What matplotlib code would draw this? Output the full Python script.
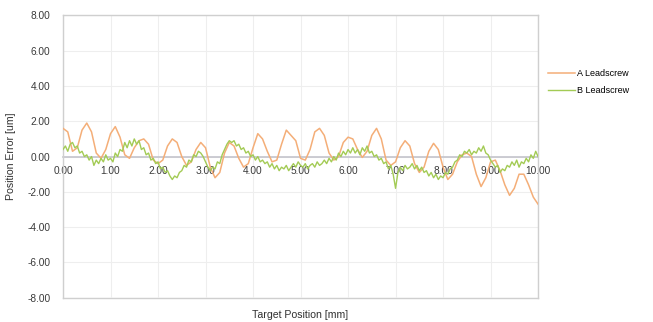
import matplotlib
matplotlib.use("Agg")
import matplotlib.pyplot as plt

plt.rcParams['font.family'] = ['Liberation Sans', 'DejaVu Sans']

# Position error along the travel for two leadscrews (um vs mm)
pos_a = [round(0.1 * i, 2) for i in range(101)]
err_a = [1.6, 1.4, 0.3, 0.5, 1.5, 1.9, 1.4, 0.2, -0.1, 0.4,
         1.3, 1.7, 1.1, 0.1, -0.1, 0.5, 0.9, 1.0, 0.7, -0.2,
         -0.4, -0.2, 0.6, 1.0, 0.8, 0.0, -0.5, -0.3, 0.4, 0.8,
         0.5, -0.6, -1.2, -0.9, 0.2, 0.8, 0.6, -0.1, -0.6, -0.4,
         0.5, 1.3, 1.0, 0.3, -0.3, -0.2, 0.7, 1.5, 1.2, 0.9,
         -0.1, -0.2, 0.4, 1.4, 1.6, 1.2, 0.2, -0.2, 0.0, 0.8,
         1.1, 1.0, 0.4, -0.05, 0.3, 1.2, 1.6, 1.0, -0.2, -0.5,
         -0.3, 0.5, 0.9, 0.6, -0.4, -0.9, -0.6, 0.3, 0.75, 0.4,
         -0.6, -1.3, -1.0, -0.3, 0.1, 0.2, 0.0, -1.0, -1.7, -1.2,
         -0.3, -0.2, -0.8, -1.6, -2.2, -1.8, -1.0, -1.0, -1.6, -2.3,
         -2.7]

pos_b = [round(0.05 * i, 2) for i in range(201)]
err_b = [0.4, 0.6, 0.3, 0.7, 0.8, 0.5, 0.6, 0.2, 0.3, 0.0,
         0.1, -0.2, 0.0, -0.5, -0.2, -0.4, -0.1, -0.3, 0.1, -0.2,
         -0.1, -0.3, 0.2, 0.0, 0.4, 0.3, 0.8, 0.5, 0.9, 0.6,
         1.0, 0.7, 0.9, 0.4, 0.5, 0.1, 0.2, -0.2, -0.1, -0.4,
         -0.3, -0.7, -0.6, -0.9, -0.8, -1.1, -1.3, -1.1, -1.2, -0.9,
         -0.8, -0.5, -0.6, -0.2, -0.3, 0.1, 0.0, 0.3, 0.2, 0.0,
         -0.3, -0.6, -0.8, -0.6, -0.7, -0.3, -0.4, 0.1, 0.4, 0.7,
         0.9, 0.8, 0.9, 0.6, 0.7, 0.4, 0.5, 0.2, 0.3, 0.0,
         0.1, -0.2, 0.0, -0.3, -0.2, -0.4, -0.3, -0.6, -0.4, -0.7,
         -0.5, -0.8, -0.6, -0.7, -0.5, -0.8, -0.6, -0.4, -0.6, -0.3,
         -0.5, -0.6, -0.4, -0.7, -0.5, -0.4, -0.6, -0.3, -0.5, -0.4,
         -0.2, -0.4, -0.1, -0.3, 0.0, -0.2, 0.2, 0.0, 0.3, 0.1,
         0.4, 0.2, 0.5, 0.2, 0.4, 0.1, 0.5, 0.3, 0.6, 0.2,
         0.3, 0.0, 0.1, -0.2, -0.1, -0.4, -0.3, -0.7, -0.5, -1.0,
         -1.8, -0.9, -0.6, -0.8, -0.5, -0.7, -0.6, -0.4, -0.7, -0.5,
         -0.8, -0.6, -0.9, -0.8, -1.1, -0.9, -1.2, -1.0, -1.3, -1.1,
         -1.2, -0.9, -1.0, -0.7, -0.6, -0.3, -0.2, 0.1, 0.0, 0.3,
         0.2, 0.4, 0.1, 0.3, 0.2, 0.5, 0.3, 0.6, 0.2, 0.1,
         -0.2, -0.4, -0.6, -0.5, -0.9, -0.7, -0.8, -0.5, -0.6, -0.3,
         -0.5, -0.2, -0.6, -0.3, -0.4, -0.1, -0.3, 0.1, -0.1, 0.3,
         0.0]

series_names = ["A Leadscrew", "B Leadscrew"]
series_colors = ["#F4AE78", "#A3CB55"]
x_ticks = list(range(0, 11))
y_ticks = [-8, -6, -4, -2, 0, 2, 4, 6, 8]

fig = plt.figure(figsize=(6.53, 3.22), dpi=100)
ax = fig.add_axes([0.0965, 0.0755, 0.7275, 0.8765])

ax.plot(pos_a, err_a, color=series_colors[0], lw=1.1, label=series_names[0], zorder=3)
ax.plot(pos_b, err_b, color=series_colors[1], lw=1.0, label=series_names[1], zorder=4)

ax.set_xlim(0, 10)
ax.set_ylim(-8, 8)
ax.set_yticks(y_ticks)
ax.set_yticklabels([f"{v:.2f}" for v in y_ticks])
ax.set_xticks(x_ticks)
ax.set_xticklabels([f"{v:.2f}" for v in x_ticks])
ax.tick_params(axis='x', length=0, pad=7, labelsize=7.3, labelcolor='#3A3A3A')
ax.tick_params(axis='y', length=0, pad=9, labelsize=7.3, labelcolor='#3A3A3A')
ax.grid(True, color='#EEEEEE', lw=0.8, zorder=0)
for s in ax.spines.values():
    s.set_color('#CFCFCF')
    s.set_linewidth(1.0)

# horizontal axis crosses at zero; the plot frame keeps its lower edge
ax.spines['bottom'].set_position(('data', 0))
ax.spines['bottom'].set_color('#C4C4CC')
ax.spines['bottom'].set_linewidth(1.2)
ax.spines['bottom'].set_zorder(2)
ax.axhline(-8, color='#CFCFCF', lw=1.0, clip_on=False, zorder=1)

ax.set_ylabel("Position Error [um]", fontsize=7.6, color='#303030', labelpad=8)
ax.set_xlabel("Target Position [mm]", fontsize=7.6, color='#303030')
ax.xaxis.set_label_coords(0.5, -0.045)

ax.legend(loc='upper left', bbox_to_anchor=(1.021, 0.81), frameon=False,
          fontsize=6.5, handlelength=3.0, handletextpad=0.2,
          labelspacing=0.9, borderaxespad=0, borderpad=0)

fig.savefig("out.png", dpi=100)
